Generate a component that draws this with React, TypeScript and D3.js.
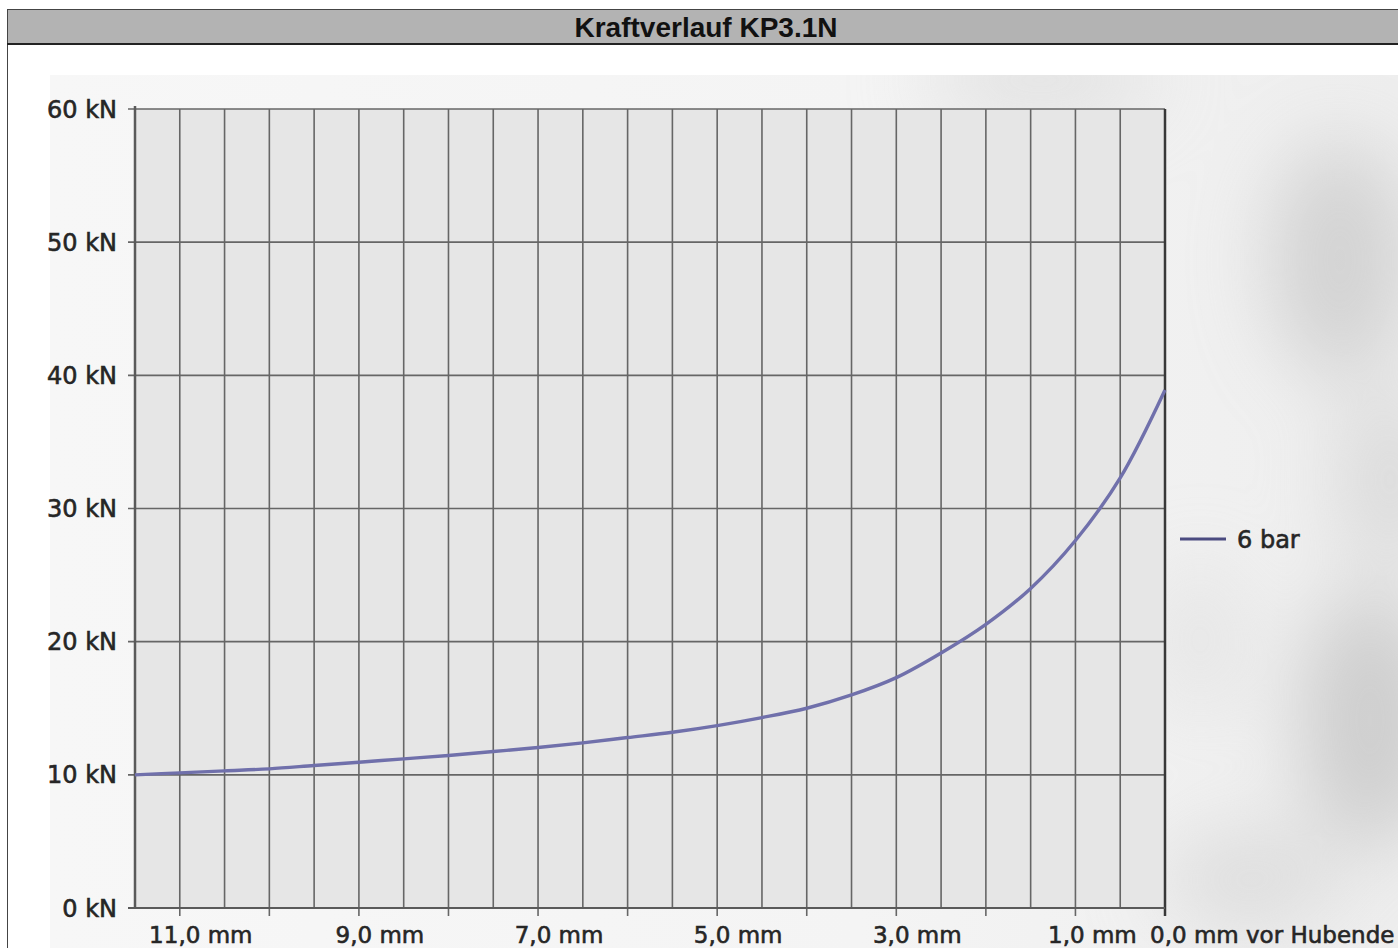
import React from "react";
import * as d3 from "d3";

const titleText = "Kraftverlauf KP3.1N";
const strokeMm = [11.5, 11, 10.5, 10, 9.5, 9, 8.5, 8, 7.5, 7, 6.5, 6, 5.5, 5, 4.5, 4, 3.5, 3, 2.5, 2, 1.5, 1, 0.5, 0];
const force6bar = [10.0, 10.15, 10.3, 10.45, 10.7, 10.95, 11.2, 11.45, 11.75, 12.05, 12.4, 12.8, 13.2, 13.7, 14.3, 15.0, 16.0, 17.3, 19.15, 21.3, 24.0, 27.6, 32.3, 38.9];
const yTicks = [0, 10, 20, 30, 40, 50, 60];
const yTickLabels = ["0 kN", "10 kN", "20 kN", "30 kN", "40 kN", "50 kN", "60 kN"];
const xGrid = [11, 10.5, 10, 9.5, 9, 8.5, 8, 7.5, 7, 6.5, 6, 5.5, 5, 4.5, 4, 3.5, 3, 2.5, 2, 1.5, 1, 0.5];
const xTicks = [11, 10, 9, 8, 7, 6, 5, 4, 3, 2, 1, 0];
const xLabelValues = [11, 9, 7, 5, 3, 1];
const xLabels = ["11,0 mm", "9,0 mm", "7,0 mm", "5,0 mm", "3,0 mm", "1,0 mm"];
const xEndLabel = "0,0 mm vor Hubende";
const seriesName = "6 bar";

const W = 1398;
const H = 948;
const plot = { left: 135, right: 1165, top: 109, bottom: 908 };

export default function App() {
  const x = d3.scaleLinear().domain([11.5, 0]).range([plot.left, plot.right]);
  const y = d3.scaleLinear().domain([0, 60]).range([plot.bottom, plot.top]);
  const pts: [number, number][] = strokeMm.map((m, i) => [m, force6bar[i]]);
  const line = d3
    .line<[number, number]>()
    .x((d) => x(d[0]))
    .y((d) => y(d[1]))
    .curve(d3.curveCatmullRom);
  const font = "'DejaVu Sans', sans-serif";
  const textColor = "#262626";
  const gridColor = "#666666";
  const textProps = {
    fontFamily: font,
    fill: textColor,
    stroke: textColor,
    strokeWidth: 0.6,
  };

  return (
    <svg
      width={W}
      height={H}
      style={{ position: "absolute", left: 0, top: 0, display: "block" }}
      xmlns="http://www.w3.org/2000/svg"
    >
      <defs>
        <filter id="blur" x="-50%" y="-50%" width="200%" height="200%">
          <feGaussianBlur stdDeviation="40" />
        </filter>
        <linearGradient id="bgGrad" x1="0" y1="0" x2="1" y2="0">
          <stop offset="0" stopColor="#f7f7f7" />
          <stop offset="0.6" stopColor="#f4f4f4" />
          <stop offset="1" stopColor="#eeeeee" />
        </linearGradient>
        <clipPath id="bgClip">
          <rect x={50} y={75} width={W - 50} height={H - 75} />
        </clipPath>
      </defs>
      <rect x={0} y={0} width={W} height={H} fill="#ffffff" />
      <rect x={7.5} y={9.5} width={W} height={H} fill="#ffffff" stroke="#444" strokeWidth={1} />
      <g clipPath="url(#bgClip)">
        <rect x={50} y={75} width={W - 50} height={H - 75} fill="url(#bgGrad)" />
        <g filter="url(#blur)" opacity={0.6}>
          <ellipse cx={1040} cy={80} rx={120} ry={40} fill="#d6d6d6" />
          <ellipse cx={1340} cy={260} rx={70} ry={120} fill="#c0c0c0" />
          <ellipse cx={1390} cy={480} rx={50} ry={90} fill="#cccccc" />
          <ellipse cx={1370} cy={720} rx={70} ry={130} fill="#b8b8b8" />
          <ellipse cx={1250} cy={880} rx={90} ry={50} fill="#d0d0d0" />
          <ellipse cx={1200} cy={640} rx={40} ry={80} fill="#dddddd" />
        </g>
      </g>
      <rect x={7.5} y={9.5} width={W} height={34} fill="#b3b3b3" stroke="#444" strokeWidth={1} />
      <line x1={7} x2={W} y1={44} y2={44} stroke="#222" strokeWidth={2} />
      <text
        x={706}
        y={37}
        textAnchor="middle"
        fontFamily="'Liberation Sans', Arial, sans-serif"
        fontWeight="bold"
        fontSize={28}
        fill="#111"
      >
        {titleText}
      </text>
      <rect
        x={plot.left}
        y={plot.top}
        width={plot.right - plot.left}
        height={plot.bottom - plot.top}
        fill="#e6e6e6"
      />
      {xGrid.map((m) => (
        <line key={"vx" + m} x1={x(m)} x2={x(m)} y1={plot.top} y2={plot.bottom} stroke={gridColor} strokeWidth={1.6} />
      ))}
      {yTicks.map((v) => (
        <line key={"hy" + v} x1={plot.left - 7} x2={plot.right} y1={y(v)} y2={y(v)} stroke={gridColor} strokeWidth={1.6} />
      ))}
      {xTicks.map((m) => (
        <line key={"tx" + m} x1={x(m)} x2={x(m)} y1={plot.bottom} y2={plot.bottom + 8} stroke={gridColor} strokeWidth={1.6} />
      ))}
      <line x1={plot.left} x2={plot.left} y1={plot.top - 3} y2={plot.bottom} stroke="#5a5a5a" strokeWidth={2.5} />
      <line x1={plot.right} x2={plot.right} y1={plot.top} y2={plot.bottom + 8} stroke="#383838" strokeWidth={2.5} />
      <line x1={plot.left - 7} x2={plot.right} y1={plot.bottom} y2={plot.bottom} stroke="#5a5a5a" strokeWidth={2} />
      <path d={line(pts) || ""} fill="none" stroke="#7070ab" strokeWidth={3.4} />
      {yTicks.map((v, i) => (
        <text key={"yl" + v} x={117} y={y(v) + 8.5} textAnchor="end" fontSize={24} {...textProps}>
          {yTickLabels[i]}
        </text>
      ))}
      {xLabelValues.map((m, i) => (
        <text key={"xl" + m} x={x(m) + (m === 1 ? 17 : 21)} y={943} textAnchor="middle" fontSize={23} {...textProps}>
          {xLabels[i]}
        </text>
      ))}
      <text x={x(0) - 15} y={943} fontSize={23} {...textProps}>
        {xEndLabel}
      </text>
      <line x1={1180} x2={1226} y1={539} y2={539} stroke="#4b4b80" strokeWidth={3.2} />
      <text x={1237} y={548} fontSize={24} {...textProps}>
        {seriesName}
      </text>
    </svg>
  );
}
